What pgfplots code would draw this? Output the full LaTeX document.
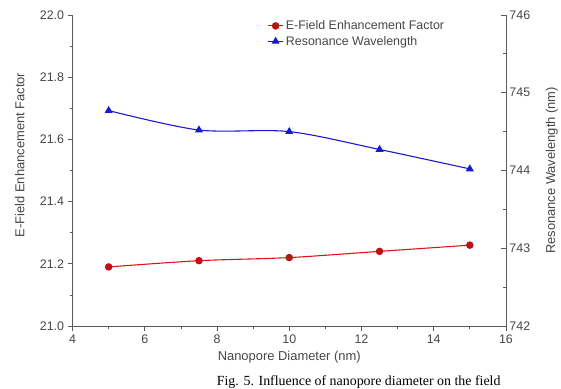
\documentclass[border=0pt]{standalone}
\usepackage{pgfplots}
\pgfplotsset{compat=1.18}
\usepackage{fontspec}
\setmainfont{Liberation Sans}
\newfontfamily\capfont{Liberation Serif}
\definecolor{ored}{RGB}{225,20,20}
\definecolor{oblue}{RGB}{25,25,210}
\definecolor{txt}{RGB}{70,70,70}
\definecolor{axc}{RGB}{90,90,90}
\begin{document}
\begin{tikzpicture}
\pgfplotsset{
  common/.style={
    scale only axis, width=436pt, height=313pt,
    at={(0pt,0pt)}, anchor=south west,
    xmin=4, xmax=16,
    /pgf/number format/assume math mode=true,
    tick label style={font=\fontsize{12.5}{14}\selectfont, color=txt},
    label style={font=\fontsize{13}{15}\selectfont, color=txt},
    axis line style={color=axc, line width=0.8pt},
    tick style={color=axc, line width=0.7pt},
    major tick length=5pt, minor tick length=3pt,
  }
}
\begin{axis}[common,
  axis x line*=bottom, axis y line*=left,
  ymin=21.0, ymax=22.0,
  xtick={4,6,8,10,12,14,16},
  minor x tick num=1,
  ytick={21.0,21.2,21.4,21.6,21.8,22.0},
  minor y tick num=1,
  yticklabel style={/pgf/number format/.cd, fixed, fixed zerofill, precision=1},
  tick align=outside,
  xlabel={Nanopore Diameter (nm)},
  ylabel={E-Field Enhancement Factor},
  xlabel style={at={(axis description cs:0.5,-0.099)}, anchor=center},
  ylabel style={at={(axis description cs:-0.1216,0.55)}, anchor=center},
  legend style={draw=none, fill=none, at={(rel axis cs:0.442,0.995)}, anchor=north west,
    font=\fontsize{12.5}{14}\selectfont, text=txt, row sep=1pt,
    legend cell align=left},
  legend image code/.code={
    \draw[#1] (0cm,0cm) -- (0.55cm,0cm);
    \draw[#1, only marks] plot coordinates {(0.275cm,0cm)};
  },
]
\addplot[color=ored, line width=1.1pt, smooth, mark=*, mark size=3.2pt, mark options={fill=ored!85!black, draw=ored!85!black}]
  coordinates {(5,21.19) (7.5,21.21) (10,21.22) (12.5,21.24) (15,21.26)};
\addlegendentry{E-Field Enhancement Factor}
\addlegendimage{color=oblue, line width=1.1pt, mark=triangle*, mark size=3.6pt, mark options={fill=oblue, draw=oblue}}
\addlegendentry{Resonance Wavelength}
\end{axis}
\begin{axis}[common,
  axis x line=none, axis y line*=right,
  ymin=742, ymax=746,
  ytick={742,743,744,745,746},
  minor y tick num=1,
  tick align=inside,
  ylabel={Resonance Wavelength (nm)},
  ylabel style={at={(axis description cs:1.1055,0.5)}, anchor=center},
]
\addplot[color=oblue, line width=1.1pt, smooth, mark=triangle*, mark size=3.6pt, mark options={fill=oblue, draw=oblue}]
  coordinates {(5,744.77) (7.5,744.52) (10,744.50) (12.5,744.27) (15,744.02)};
\end{axis}
\node[anchor=north west, inner sep=0pt, font=\capfont\fontsize{14}{16}\selectfont] at (145pt,-50pt)
  {Fig. 5. Influence of nanopore diameter on the field};
\useasboundingbox (-73pt,-59pt) rectangle (488pt,328pt);
\end{tikzpicture}
\end{document}
